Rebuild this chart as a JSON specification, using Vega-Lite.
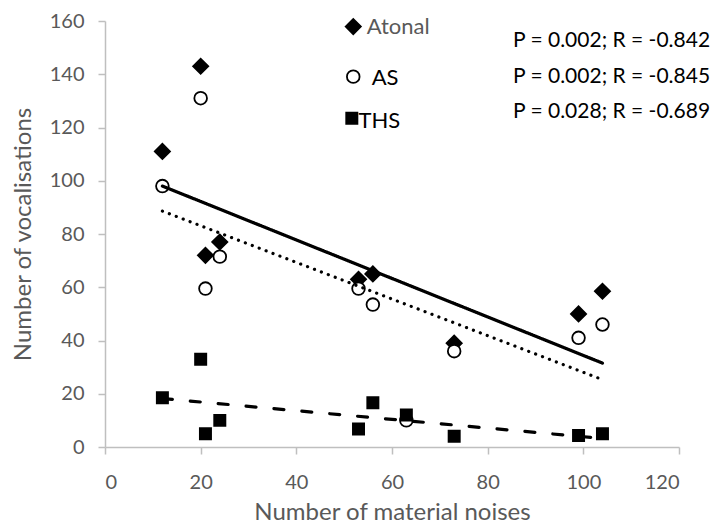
{
  "$schema": "https://vega.github.io/schema/vega-lite/v6.json",
  "width": 574,
  "height": 426,
  "autosize": {"type": "none"},
  "padding": {"left": 105, "top": 21, "right": 36, "bottom": 83},
  "background": "white",
  "config": {
    "view": {"stroke": null},
    "font": "Lato",
    "axis": {
      "grid": false,
      "domainColor": "#bfbfbf",
      "domainWidth": 1.5,
      "tickColor": "#bfbfbf",
      "tickWidth": 1.5,
      "tickSize": 7,
      "labelColor": "#595959",
      "labelFont": "Lato",
      "labelFontSize": 20,
      "titleColor": "#595959",
      "titleFont": "Lato",
      "titleFontSize": 24,
      "titleFontWeight": "normal"
    }
  },
  "datasets": {
    "points": [
      {"series": "Atonal", "x": 12, "y": 111},
      {"series": "Atonal", "x": 20, "y": 143},
      {"series": "Atonal", "x": 21, "y": 72},
      {"series": "Atonal", "x": 24, "y": 77},
      {"series": "Atonal", "x": 53, "y": 63},
      {"series": "Atonal", "x": 56, "y": 65},
      {"series": "Atonal", "x": 73, "y": 39},
      {"series": "Atonal", "x": 99, "y": 50},
      {"series": "Atonal", "x": 104, "y": 58.5},
      {"series": "AS", "x": 12, "y": 98},
      {"series": "AS", "x": 20, "y": 131},
      {"series": "AS", "x": 21, "y": 59.5},
      {"series": "AS", "x": 24, "y": 71.5},
      {"series": "AS", "x": 53, "y": 59.5},
      {"series": "AS", "x": 56, "y": 53.5},
      {"series": "AS", "x": 63, "y": 10},
      {"series": "AS", "x": 73, "y": 36},
      {"series": "AS", "x": 99, "y": 41},
      {"series": "AS", "x": 104, "y": 46},
      {"series": "THS", "x": 12, "y": 18.5},
      {"series": "THS", "x": 20, "y": 33},
      {"series": "THS", "x": 21, "y": 5},
      {"series": "THS", "x": 24, "y": 10},
      {"series": "THS", "x": 53, "y": 6.8},
      {"series": "THS", "x": 56, "y": 16.6},
      {"series": "THS", "x": 63, "y": 12},
      {"series": "THS", "x": 73, "y": 4},
      {"series": "THS", "x": 99, "y": 4.3},
      {"series": "THS", "x": 104, "y": 5}
    ],
    "fits": [
      {"series": "Atonal", "x": 12, "y": 98},
      {"series": "Atonal", "x": 104, "y": 31.5},
      {"series": "AS", "x": 12, "y": 88.6},
      {"series": "AS", "x": 104, "y": 25.3},
      {"series": "THS", "x": 12, "y": 18.2},
      {"series": "THS", "x": 104, "y": 3.2}
    ],
    "notes": [
      {"text": "P = 0.002; R = -0.842", "x": 85.3, "y": 152.5},
      {"text": "P = 0.002; R = -0.845", "x": 85.3, "y": 139},
      {"text": "P = 0.028; R = -0.689", "x": 85.3, "y": 125.8}
    ]
  },
  "layer": [
    {
      "data": {"name": "points"},
      "mark": {"type": "point", "filled": false, "stroke": "black", "strokeWidth": 1.8, "opacity": 1},
      "encoding": {
        "x": {
          "field": "x", "type": "quantitative",
          "scale": {"domain": [0, 120], "nice": false},
          "axis": {"values": [0, 20, 40, 60, 80, 100, 120], "title": "Number of material noises", "labelPadding": 18, "titlePadding": 8}
        },
        "y": {
          "field": "y", "type": "quantitative",
          "scale": {"domain": [0, 160], "nice": false},
          "axis": {"values": [0, 20, 40, 60, 80, 100, 120, 140, 160], "title": "Number of vocalisations", "labelPadding": 14, "titlePadding": 14}
        },
        "size": {
          "condition": [
            {"test": "datum.series === 'Atonal'", "value": 230},
            {"test": "datum.series === 'AS'", "value": 160}
          ],
          "value": 125
        },
        "fill": {
          "condition": {"test": "datum.series === 'AS'", "value": "#ffffff"},
          "value": "#000000"
        },
        "shape": {
          "field": "series", "type": "nominal",
          "scale": {"domain": ["Atonal", "AS", "THS"], "range": ["diamond", "circle", "square"]},
          "legend": null
        }
      }
    },
    {
      "data": {"name": "fits"},
      "mark": {"type": "line", "color": "black", "strokeWidth": 3.2, "strokeCap": "round"},
      "encoding": {
        "x": {"field": "x", "type": "quantitative"},
        "y": {"field": "y", "type": "quantitative"},
        "detail": {"field": "series", "type": "nominal"},
        "strokeDash": {
          "field": "series", "type": "nominal",
          "scale": {"domain": ["Atonal", "AS", "THS"], "range": [[1, 0], [0.1, 7.3], [10, 18]]},
          "legend": null
        }
      }
    },
    {
      "data": {"name": "notes"},
      "mark": {"type": "text", "align": "left", "baseline": "middle", "font": "Lato", "fontSize": 21, "color": "black"},
      "encoding": {
        "x": {"field": "x", "type": "quantitative"},
        "y": {"field": "y", "type": "quantitative"},
        "text": {"field": "text"}
      }
    },
    {
      "data": {"values": [{"series": "Atonal"}]},
      "mark": {"type": "point", "shape": "diamond", "filled": true, "fill": "black", "stroke": "black", "strokeWidth": 1.8, "size": 230, "opacity": 1},
      "encoding": {"x": {"datum": 51.9}, "y": {"datum": 157.9}}
    },
    {
      "data": {"values": [{"series": "AS"}]},
      "mark": {"type": "point", "shape": "circle", "filled": true, "fill": "white", "stroke": "black", "strokeWidth": 1.8, "size": 160, "opacity": 1},
      "encoding": {"x": {"datum": 51.9}, "y": {"datum": 139.1}}
    },
    {
      "data": {"values": [{"series": "THS"}]},
      "mark": {"type": "point", "shape": "square", "filled": true, "fill": "black", "stroke": "black", "strokeWidth": 1.8, "size": 125, "opacity": 1},
      "encoding": {"x": {"datum": 51.6}, "y": {"datum": 123.5}}
    },
    {
      "data": {"values": [{"series": "Atonal"}]},
      "mark": {"type": "text", "align": "left", "baseline": "middle", "font": "Lato", "fontSize": 22, "color": "#595959"},
      "encoding": {"x": {"datum": 54.7}, "y": {"datum": 157.9}, "text": {"field": "series"}}
    },
    {
      "data": {"values": [{"series": "AS"}]},
      "mark": {"type": "text", "align": "left", "baseline": "middle", "font": "Lato", "fontSize": 22, "color": "#000000"},
      "encoding": {"x": {"datum": 55.75}, "y": {"datum": 138.6}, "text": {"field": "series"}}
    },
    {
      "data": {"values": [{"series": "THS"}]},
      "mark": {"type": "text", "align": "left", "baseline": "middle", "font": "Lato", "fontSize": 22, "color": "#000000"},
      "encoding": {"x": {"datum": 53.0}, "y": {"datum": 122.3}, "text": {"field": "series"}}
    }
  ]
}
